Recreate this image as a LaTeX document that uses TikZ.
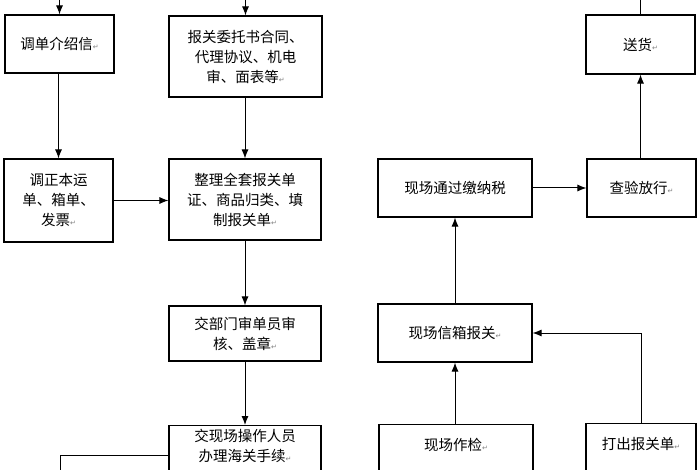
\documentclass[tikz,border=0pt]{standalone}
\usepackage{fontspec}
\usetikzlibrary{arrows.meta}
\setmainfont{Noto Sans CJK SC}
\newfontfamily\djv{DejaVu Sans}
\newcommand{\rt}{{\djv\color{gray}\scriptsize ↵}}
\begin{document}
\begin{tikzpicture}[x=1pt,y=-1pt,
 box/.style={draw,line width=1.1pt,minimum width=#1,align=center,inner sep=2pt,font=\fontsize{14.5}{20}\selectfont},
 ar/.style={-{Latex[length=9pt,width=7pt]},line width=1pt},
 ln/.style={line width=1pt}]
\useasboundingbox (0,0) rectangle (700,470);
\fill[white] (0,0) rectangle (700,470);
\clip (0,0) rectangle (700,470);
\node[box=109pt,minimum height=58pt] (A) at (59.5,44) {调单介绍信\rt};
\node[box=153pt,minimum height=81pt] (B) at (245.5,56.5) {报关委托书合同、\\代理协议、机电\\审、面表等\rt};
\node[box=109pt,minimum height=83pt] (C) at (58.5,200.5) {调正本运\\单、箱单、\\发票\rt};
\node[box=152pt,minimum height=81pt] (D) at (245,199.5) {整理全套报关单\\证、商品归类、填\\制报关单\rt};
\node[box=152pt,minimum height=55pt] (E) at (245,333.5) {交部门审单员审\\核、盖章\rt};
\node[box=152pt,minimum height=80pt,anchor=north] (F) at (245,425) {交现场操作人员\\办理海关手续\rt\\ \\};
\node[box=109pt,minimum height=59pt] (G) at (640.5,44.5) {送货\rt};
\node[box=154pt,minimum height=58pt] (H) at (455,188) {现场通过缴纳税};
\node[box=109pt,minimum height=58pt] (I) at (641.5,188) {查验放行\rt};
\node[box=154pt,minimum height=58pt] (J) at (455,333) {现场信箱报关\rt};
\node[box=154pt,minimum height=80pt,anchor=north] (K) at (456,424) {现场作检\rt\\ \\};
\node[box=110pt,minimum height=80pt,anchor=north] (L) at (641,423) {打出报关单\rt\\ \\};
\coordinate (a0) at (59.5,0);
\coordinate (b0) at (245.5,0);
\coordinate (g0) at (640.5,0);
\coordinate (f1) at (60,455);
\coordinate (f2) at (60,480);
\draw[ar] (a0) -- (A.north);
\draw[ar] (b0) -- (B.north);
\draw[ln] (G.north) -- (g0);
\draw[ar] (A.south -| C) -- (C.north);
\draw[ar] (B.south -| D) -- (D.north);
\draw[ar] (C) -- (C -| D.west);
\draw[ar] (D) -- (E);
\draw[ar] (E) -- (F);
\draw[ln] (F.west |- f1) -- (f1) -- (f2);
\draw[ar] (K.north -| J) -- (J.south);
\draw[ar] (J) -- (H);
\draw[ar] (H) -- (I);
\draw[ar] (I.north -| G) -- (G.south);
\draw[ar] (L.north) |- (J.east);
\end{tikzpicture}
\end{document}
